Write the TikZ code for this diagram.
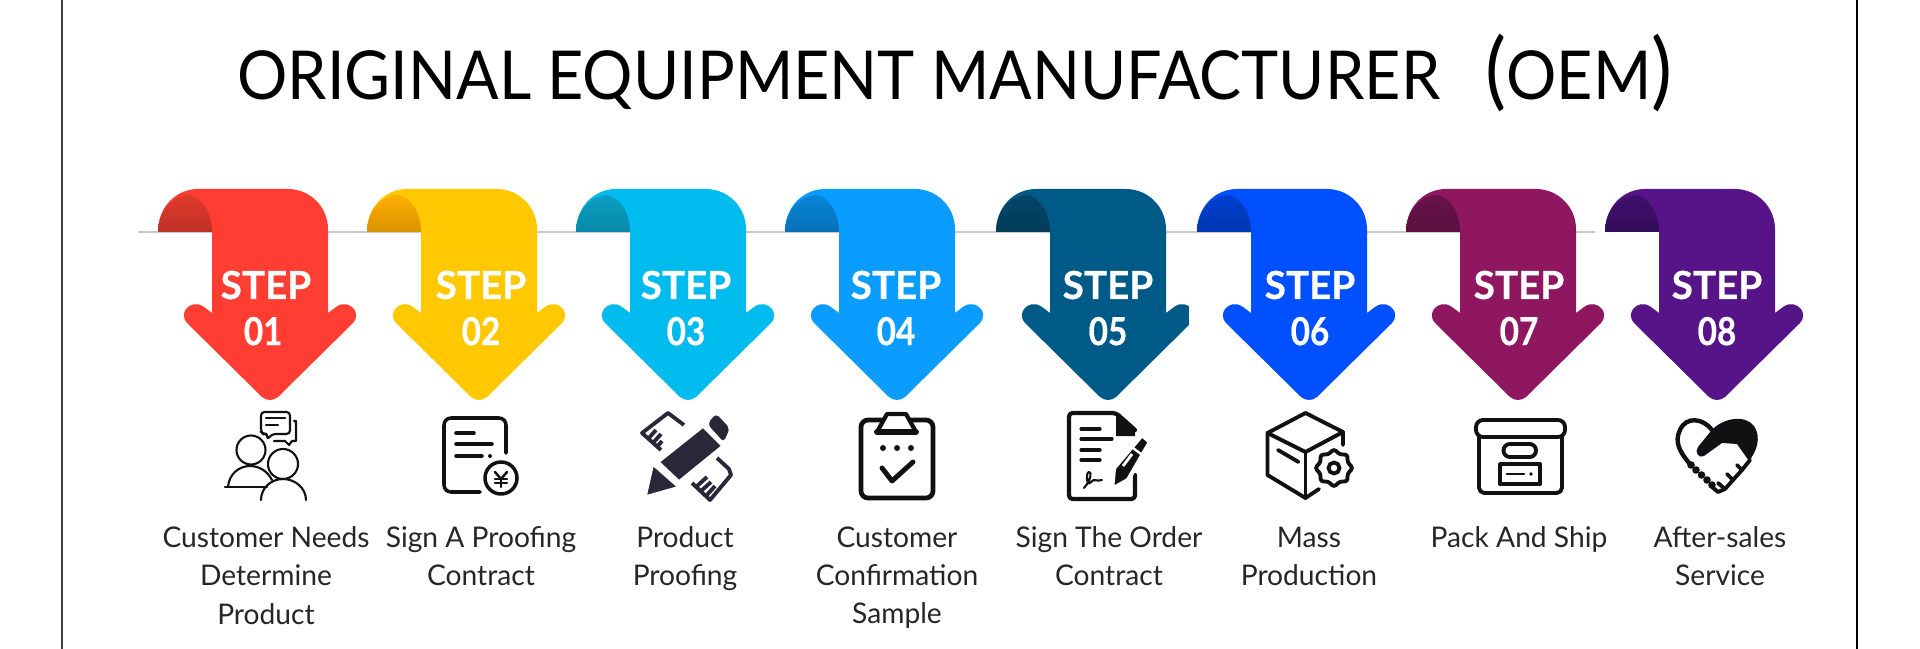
\documentclass[tikz,border=0pt]{standalone}
\usepackage{fontspec}
\setmainfont{Lato}
\newfontfamily\titlefont[FakeStretch=0.932]{Lato}
\newfontfamily\labfont[FakeStretch=0.99]{Lato}
\newfontfamily\stepfont[BoldFeatures={FakeBold=0.5}]{Lato}
\newfontfamily\numfont[FakeStretch=0.86, BoldFeatures={FakeBold=0.5}]{Lato}
\usepackage{tikz}
\usetikzlibrary{shapes.geometric, positioning}
\definecolor{icondark}{RGB}{17, 17, 20}
\definecolor{pencildark}{RGB}{42, 40, 56}
\definecolor{railgray}{RGB}{200, 200, 206}
\definecolor{ribred}{RGB}{255, 61, 51}
\definecolor{ribredb}{RGB}{224, 58, 44}
\definecolor{ribyellow}{RGB}{255, 200, 0}
\definecolor{ribyellowb}{RGB}{255, 173, 0}
\definecolor{ribcyan}{RGB}{0, 187, 238}
\definecolor{ribcyanb}{RGB}{10, 159, 196}
\definecolor{ribsky}{RGB}{10, 156, 255}
\definecolor{ribskyb}{RGB}{8, 133, 216}
\definecolor{ribnavy}{RGB}{0, 90, 136}
\definecolor{ribnavyb}{RGB}{3, 70, 105}
\definecolor{ribblue}{RGB}{0, 80, 255}
\definecolor{ribblueb}{RGB}{0, 64, 208}
\definecolor{ribplum}{RGB}{142, 23, 96}
\definecolor{ribplumb}{RGB}{105, 18, 74}
\definecolor{ribviolet}{RGB}{86, 20, 136}
\definecolor{ribvioletb}{RGB}{62, 15, 108}
\tikzset{
    pics/ribbon/.style 2 args={code={
        \fill[#1] (-112,43) .. controls (-112,18) and (-94,0) .. (-72,0) -- (18,0)
            .. controls (40,0) and (58,18) .. (58,40) -- (58,124) -- (66,118)
            .. controls (73,113) and (80,115) .. (84,120) .. controls (87,124) and (87,130) .. (83,134)
            -- (8,208) .. controls (3,212) and (-3,212) .. (-8,208) -- (-83,134)
            .. controls (-87,130) and (-87,124) .. (-84,120) .. controls (-80,115) and (-73,113) .. (-66,118)
            -- (-58,124) -- (-58,43) -- cycle;
        \shade[top color=#2, bottom color=#2!85!black] (-112,43) .. controls (-112,22) and (-98,6) .. (-80,6)
            .. controls (-68,9) and (-58,24) .. (-58,43) -- cycle;
    }}
}
\begin{document}
\begin{tikzpicture}[
    x=0.1mm, y=-0.1mm,
    steptxt/.style={font=\stepfont\bfseries\fontsize{11}{11}\selectfont, text=white, inner sep=0pt},
    numtxt/.style={font=\numfont\bfseries\fontsize{11}{11}\selectfont, text=white, inner sep=0pt},
    lab/.style={font=\labfont\fontsize{8.1}{10.9}\selectfont, text=black!85, align=center, anchor=north, inner sep=0pt},
    ico/.style={draw=icondark, line width=1.1pt, line cap=round, line join=round},
    icothin/.style={draw=icondark, line width=0.6pt, line cap=round, line join=round},
    rulerline/.style={draw=pencildark, line width=1.1pt, line join=round},
    dotfill/.style={fill=icondark}
]
\useasboundingbox (0,0) rectangle (1920,649);
\coordinate (frameLt) at (62,0);
\coordinate (frameLb) at (62,649);
\coordinate (frameRt) at (1857,0);
\coordinate (frameRb) at (1857,649);
\draw[black!75, line width=0.7pt] (frameLt) -- (frameLb);
\draw[black, line width=0.8pt] (frameRt) -- (frameRb);

\node[inner sep=0pt, font=\titlefont\fontsize{19.2}{19.2}\selectfont] (title) at (955,72.5)
    {ORIGINAL EQUIPMENT MANUFACTURER\hspace{13pt}{\fontsize{24}{24}\selectfont(}OEM{\fontsize{24}{24}\selectfont)}};

% rail behind the ribbons
\coordinate (railL) at (138,232);
\coordinate (railR) at (1595,232);
\draw[railgray, line width=0.8pt] (railL) -- (railR);

% ribbons
\pic at (270,189)  {ribbon={ribred}{ribredb}};
\pic at (479,189)  {ribbon={ribyellow}{ribyellowb}};
\pic at (688,189)  {ribbon={ribcyan}{ribcyanb}};
\pic at (897,189)  {ribbon={ribsky}{ribskyb}};
\pic at (1108,189) {ribbon={ribnavy}{ribnavyb}};
\fill[white] (1189,290) rectangle (1200,335);
\pic at (1309,189) {ribbon={ribblue}{ribblueb}};
\pic at (1518,189) {ribbon={ribplum}{ribplumb}};
\pic at (1717,189) {ribbon={ribviolet}{ribvioletb}};

% step texts
\node[steptxt] (st1) at (266,285)  {STEP};
\node[steptxt] (st2) at (481,285)  {STEP};
\node[steptxt] (st3) at (686,285)  {STEP};
\node[steptxt] (st4) at (896,285)  {STEP};
\node[steptxt] (st5) at (1108,285) {STEP};
\node[steptxt] (st6) at (1310,285) {STEP};
\node[steptxt] (st7) at (1519,285) {STEP};
\node[steptxt] (st8) at (1717,285) {STEP};
\node[numtxt, below=4.6pt of st1, xshift=-0.8pt] (num1) {01};
\node[numtxt, below=4.6pt of st2] (num2) {02};
\node[numtxt, below=4.6pt of st3] (num3) {03};
\node[numtxt, below=4.6pt of st4] (num4) {04};
\node[numtxt, below=4.6pt of st5] (num5) {05};
\node[numtxt, below=4.6pt of st6] (num6) {06};
\node[numtxt, below=4.6pt of st7] (num7) {07};
\node[numtxt, below=4.6pt of st8] (num8) {08};

% labels
\node[lab] (lab1) at (266,526)  {Customer Needs\\Determine\\Product};
\node[lab] (lab2) at (481,526)  {Sign A Proofing\\Contract};
\node[lab] (lab3) at (685,526)  {Product\\Proofing};
\node[lab] (lab4) at (897,526)  {Customer\\Confirmation\\Sample};
\node[lab] (lab5) at (1109,526) {Sign The Order\\Contract};
\node[lab] (lab6) at (1309,526) {Mass\\Production};
\node[lab] (lab7) at (1519,526) {Pack And Ship};
\node[lab] (lab8) at (1720,526) {After-sales\\Service};

% icon 1: people talking
\draw[icothin] (251,450) circle[radius=14.5];
\draw[icothin] (225,487) -- (267,487);
\draw[icothin] (228,487) .. controls (229,474) and (239,466) .. (250,466) .. controls (260,466) and (268,472) .. (272,480);
\draw[icothin] (283,464) circle[radius=15];
\draw[icothin] (261,500) .. controls (261,488) and (271,479) .. (283,479) .. controls (295,479) and (306,488) .. (306,500);
\draw[icothin, rounded corners=1pt] (268,434) -- (263,434) -- (261,432) -- (261,412) -- (290,412) -- (290,434) -- (272,434) -- (267,440) -- cycle;
\draw[icothin] (266,418) -- (285,418);
\draw[icothin] (266,425) -- (278,425);
\draw[icothin] (294,421) -- (296,421) -- (296,441) -- (292,441) -- (289,445) -- (285,441) -- (274,441);

% icon 2: contract with yen
\draw[ico, line width=1pt, rounded corners=2pt] (506,453) -- (506,418) -- (444,418) -- (444,492) -- (480,492);
\draw[ico, line width=1pt] (456,433) -- (474,433);
\draw[ico, line width=1pt] (456,444) -- (492,444);
\draw[ico, line width=1pt] (456,456) -- (482,456);
\fill[dotfill] (490,456) circle[radius=2];
\draw[ico, line width=1pt] (501,478) circle[radius=16];
\draw[ico, line width=0.7pt] (495,472) -- (501,479) -- (507,472);
\draw[ico, line width=0.7pt] (501,479) -- (501,487);
\draw[ico, line width=0.7pt] (495,479) -- (507,479);
\draw[ico, line width=0.7pt] (495,483) -- (507,483);

% icon 3: pencil and ruler
\draw[rulerline] (684,425) -- (668,413) -- (642,433) -- (661,450);
\draw[rulerline] (648,439) -- (656,430);
\draw[rulerline] (653,443) -- (661,434);
\draw[rulerline] (657,447) -- (662,441);
\draw[rulerline] (717,458) -- (729,469) -- (731,475) -- (710,500) -- (692,483);
\draw[rulerline] (696,487) -- (707,477);
\draw[rulerline] (701,491) -- (711,482);
\draw[rulerline] (706,496) -- (715,486);
\fill[pencildark, draw=white, line width=0.5pt, line join=round] (646,496) -- (653,465) -- (678,487) -- cycle;
\fill[pencildark, draw=white, line width=0.5pt] (659,462) -- (703,427) -- (722,446) -- (679,481) -- cycle;
\fill[pencildark, draw=white, line width=0.5pt, rounded corners=1.5pt] (706,424) -- (716,412) -- (731,428) -- (724,444) -- cycle;

% icon 4: clipboard
\draw[ico, line width=1.35pt, rounded corners=2pt] (861,420) rectangle (933,498);
\draw[ico, line width=1.2pt, fill=white] (877,432) -- (887,414) -- (906,414) -- (916,432) -- cycle;
\draw[ico, line width=1.7pt] (877,432) -- (916,432);
\fill[dotfill] (883,448) circle[radius=3];
\fill[dotfill] (897,448) circle[radius=3];
\fill[dotfill] (911,448) circle[radius=3];
\draw[ico, line width=1.4pt] (882,468) -- (892,481) -- (913,462);

% icon 5: signed order with pen
\draw[ico, line width=1.2pt, rounded corners=1pt] (1135,430) -- (1116,413) -- (1069,413) -- (1069,499) -- (1135,499) -- (1135,475);
\fill[dotfill] (1116,413) -- (1135,430) -- (1135,436) -- (1116,436) -- cycle;
\draw[ico, line width=0.9pt] (1081,429) -- (1100,429);
\draw[ico, line width=0.9pt] (1081,439) -- (1112,439);
\draw[ico, line width=0.9pt] (1081,450) -- (1100,450);
\draw[ico, line width=0.9pt] (1081,460) -- (1100,460);
\draw[icothin] (1084,488) .. controls (1091,480) and (1092,472) .. (1089,472) .. controls (1085,473) and (1087,488) .. (1091,482) .. controls (1094,478) and (1097,482) .. (1102,480);
\draw[white, line width=1.2pt, fill=icondark] (1112,489) -- (1114,468) -- (1142,435) -- (1150,442) -- (1128,480) -- cycle;
\draw[white, line width=0.7pt] (1133,448) -- (1141,454);
\draw[white, line width=0.8pt] (1123,466) -- (1132,454);

% icon 6: box with gear
\draw[ico] (1305.5,413) -- (1267.5,433) -- (1267.5,475) -- (1305.5,498) -- (1319,489);
\draw[ico] (1305.5,413) -- (1343,432) -- (1343,445);
\draw[ico] (1267.5,433) -- (1305.5,452) -- (1343,432);
\draw[ico] (1305.5,452) -- (1305.5,498);
\draw[ico] (1278,450) -- (1298.5,462);
\node[star, star points=8, star point ratio=1.3, draw=icondark, fill=white, line width=1.1pt, minimum size=3.8mm, inner sep=0pt, rounded corners=0.8pt] (gear) at (1334,468) {};
\draw[ico] (gear.center) circle[radius=5.5];

% icon 7: archive box
\draw[ico, rounded corners=1.5pt] (1479,437) -- (1479,493) -- (1562,493) -- (1562,437);
\draw[ico, rounded corners=2pt] (1476,437) -- (1476,420) -- (1565,420) -- (1565,437) -- cycle;
\draw[ico, rounded corners=1.8pt] (1503.5,444) rectangle (1536,457);
\draw[ico] (1500,464) rectangle (1540,484);
\draw[ico, line width=0.8pt] (1507,474) -- (1524,474);
\fill[dotfill] (1531,474) circle[radius=1.8];

% icon 8: handshake heart
\draw[ico, line width=1.25pt] (1712,430) .. controls (1703,418) and (1686,416) .. (1680,430) .. controls (1674,442) and (1680,452) .. (1689,463);
\fill[dotfill] (1711,431) .. controls (1722,418) and (1745,414) .. (1754,426) .. controls (1762,438) and (1756,452) .. (1749,461)
    -- (1737,444) -- (1722,443) -- (1704,456) .. controls (1699,459) and (1694,452) .. (1698,447) -- cycle;
\draw[ico] (1750,460) -- (1742,470) -- (1737,465);
\draw[ico] (1742,470) -- (1733,480) -- (1727,474);
\draw[ico] (1733,480) -- (1725,489) -- (1718,483);
\draw[ico] (1725,489) -- (1718,492) -- (1712,487);
\fill[dotfill] (1691,465) circle[radius=3.8];
\fill[dotfill] (1696,470) circle[radius=3.8];
\fill[dotfill] (1701.5,475) circle[radius=3.8];
\fill[dotfill] (1707,480) circle[radius=3.8];
\fill[dotfill] (1712,485) circle[radius=3.8];
\end{tikzpicture}
\end{document}
